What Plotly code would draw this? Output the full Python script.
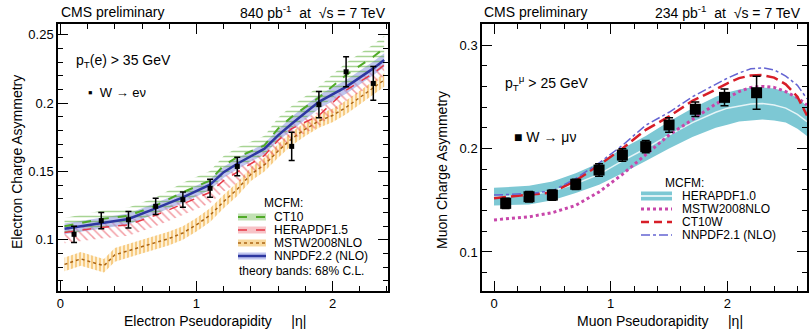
import plotly.graph_objects as go

# ---------------- data: left panel (electrons) ----------------
e_eta = [0.1, 0.3, 0.5, 0.7, 0.9, 1.1, 1.3, 1.7, 1.9, 2.1, 2.3]
e_asym = [0.104, 0.114, 0.1147, 0.1245, 0.1294, 0.1377, 0.1537, 0.1684, 0.199, 0.223, 0.2145]
e_err = [0.006, 0.006, 0.006, 0.006, 0.0055, 0.0066, 0.0068, 0.0104, 0.0096, 0.011, 0.0123]

th_eta = [0.03, 0.3, 0.5, 0.7, 0.9, 1.1, 1.2, 1.3, 1.5, 1.6, 1.7, 1.9, 2.1, 2.3, 2.38]
nnpdf22 = [0.108, 0.112, 0.1152, 0.123, 0.131, 0.1404, 0.1495, 0.1557, 0.1667, 0.1765, 0.185, 0.201, 0.212, 0.2255, 0.2316]
nnpdf22_err = [0.004, 0.004, 0.004, 0.004, 0.004, 0.004, 0.004, 0.004, 0.004, 0.004, 0.005, 0.005, 0.005, 0.005, 0.005]
ct10 = [0.110, 0.1152, 0.1176, 0.125, 0.1348, 0.1434, 0.1544, 0.1605, 0.1691, 0.1814, 0.19, 0.2042, 0.2206, 0.234, 0.2402]
ct10_err = [0.006, 0.006, 0.006, 0.006, 0.007, 0.007, 0.007, 0.007, 0.007, 0.008, 0.008, 0.008, 0.009, 0.009, 0.009]
hera15 = [0.1054, 0.109, 0.111, 0.118, 0.1262, 0.1348, 0.1434, 0.1495, 0.1618, 0.1728, 0.1814, 0.191, 0.2096, 0.2218, 0.228]
hera15_up = [0.003, 0.003, 0.003, 0.003, 0.003, 0.003, 0.003, 0.003, 0.003, 0.003, 0.003, 0.003, 0.003, 0.003, 0.003]
hera15_dn = [0.008, 0.008, 0.008, 0.008, 0.008, 0.008, 0.008, 0.008, 0.008, 0.008, 0.008, 0.008, 0.008, 0.008, 0.008]

mstw_eta = [0.03, 0.15, 0.25, 0.32, 0.4, 0.5, 0.6, 0.7, 0.8, 0.9, 1.0, 1.1, 1.2, 1.3, 1.4, 1.5,
            1.6, 1.7, 1.8, 1.9, 2.0, 2.1, 2.2, 2.3, 2.38]
mstw_e = [0.082, 0.086, 0.083, 0.081, 0.089, 0.092, 0.095, 0.098, 0.101, 0.105, 0.111, 0.118, 0.128,
          0.137, 0.148, 0.155, 0.165, 0.174, 0.181, 0.187, 0.191, 0.197, 0.204, 0.211, 0.217]
mstw_e_err = [0.005] * 25

# ---------------- data: right panel (muons) ----------------
m_eta = [0.1, 0.3, 0.5, 0.7, 0.9, 1.1, 1.3, 1.5, 1.725, 1.975, 2.25]
m_asym = [0.147, 0.1534, 0.155, 0.1654, 0.1792, 0.1937, 0.2018, 0.2227, 0.2379, 0.2494, 0.2539]
m_err = [0.005, 0.005, 0.005, 0.005, 0.006, 0.006, 0.006, 0.007, 0.007, 0.008, 0.016]

mu_eta = [0.0, 0.3, 0.5, 0.7, 0.9, 1.1, 1.3, 1.5, 1.7, 1.9, 2.0, 2.1, 2.2, 2.3, 2.4, 2.5, 2.6, 2.682]
hera10_c = [0.153, 0.155, 0.159, 0.166, 0.175, 0.188, 0.200, 0.213, 0.225, 0.235, 0.239, 0.241, 0.243, 0.2435, 0.242, 0.239, 0.233, 0.226]
hera10_hi = [0.162, 0.164, 0.168, 0.176, 0.186, 0.200, 0.212, 0.226, 0.239, 0.250, 0.254, 0.257, 0.259, 0.259, 0.258, 0.255, 0.249, 0.241]
hera10_lo = [0.145, 0.146, 0.150, 0.157, 0.165, 0.176, 0.188, 0.200, 0.211, 0.220, 0.223, 0.226, 0.227, 0.228, 0.227, 0.225, 0.219, 0.212]
mstw_m = [0.131, 0.134, 0.138, 0.145, 0.158, 0.175, 0.194, 0.213, 0.228, 0.243, 0.249, 0.255, 0.259, 0.260, 0.259, 0.255, 0.249, 0.242]
ct10w = [0.152, 0.155, 0.1575, 0.169, 0.184, 0.200, 0.218, 0.231, 0.246, 0.257, 0.263, 0.268, 0.2705, 0.271, 0.2685, 0.262, 0.250, 0.232]
nnpdf21 = [0.155, 0.1565, 0.159, 0.171, 0.186, 0.203, 0.2225, 0.235, 0.250, 0.262, 0.268, 0.273, 0.277, 0.278, 0.276, 0.270, 0.261, 0.248]

FONT = "Liberation Sans, Arial, sans-serif"
W, H = 809, 336


def px(x):
    return x / W


def py(y):
    return 1 - y / H


GREEN = "rgb(80,170,40)"
RED = "rgb(230,55,70)"
ORANGE = "rgb(240,160,30)"
DKORANGE = "rgb(170,100,20)"
BLUE = "rgb(45,55,160)"
LAV = "rgba(140,150,225,0.55)"
CYAN = "rgb(125,200,212)"
MAG = "rgb(200,70,170)"
RED2 = "rgb(215,30,40)"
BLUE2 = "rgb(100,100,210)"

fig = go.Figure()


def band(x, lo, hi, xa, ya, color=None, pattern=None):
    fig.add_trace(go.Scatter(x=x, y=lo, mode="lines", line=dict(width=0, color="rgba(0,0,0,0)"),
                             xaxis=xa, yaxis=ya, showlegend=False, hoverinfo="skip"))
    kw = dict(fill="tonexty", fillcolor=color if color else "rgba(0,0,0,0)")
    if pattern:
        kw["fillpattern"] = pattern
    fig.add_trace(go.Scatter(x=x, y=hi, mode="lines", line=dict(width=0, color="rgba(0,0,0,0)"),
                             xaxis=xa, yaxis=ya, showlegend=False, hoverinfo="skip", **kw))


# ---- left bands ----
band(mstw_eta, [v - e for v, e in zip(mstw_e, mstw_e_err)], [v + e for v, e in zip(mstw_e, mstw_e_err)],
     "x", "y", "rgba(250,200,100,0.35)",
     dict(shape="|", fgcolor=ORANGE, size=4, solidity=0.45, bgcolor="rgba(250,215,140,0.35)"))
band(th_eta, [v - e for v, e in zip(hera15, hera15_dn)], [v + e for v, e in zip(hera15, hera15_up)],
     "x", "y", None,
     dict(shape="\\", fgcolor=RED, size=6, solidity=0.25, bgcolor="rgba(0,0,0,0)"))
band(th_eta, [v - e for v, e in zip(nnpdf22, nnpdf22_err)], [v + e for v, e in zip(nnpdf22, nnpdf22_err)],
     "x", "y", LAV)
band(th_eta, [v - e for v, e in zip(ct10, ct10_err)], [v + e for v, e in zip(ct10, ct10_err)],
     "x", "y", None,
     dict(shape="-", fgcolor=GREEN, size=5, solidity=0.3, bgcolor="rgba(0,0,0,0)"))

# ---- left central lines ----
fig.add_trace(go.Scatter(x=mstw_eta, y=mstw_e, mode="lines", line=dict(color=DKORANGE, width=1.5, dash="dot"),
                         xaxis="x", yaxis="y", showlegend=False))
fig.add_trace(go.Scatter(x=th_eta, y=hera15, mode="lines", line=dict(color=RED, width=1.5, dash="dash"),
                         xaxis="x", yaxis="y", showlegend=False))
fig.add_trace(go.Scatter(x=th_eta, y=nnpdf22, mode="lines", line=dict(color=BLUE, width=2.5),
                         xaxis="x", yaxis="y", showlegend=False))
fig.add_trace(go.Scatter(x=th_eta, y=ct10, mode="lines", line=dict(color=GREEN, width=2, dash="dash"),
                         xaxis="x", yaxis="y", showlegend=False))
fig.add_trace(go.Scatter(x=e_eta, y=e_asym, mode="markers", marker=dict(symbol="square", size=5, color="black"),
                         error_y=dict(type="data", array=e_err, color="black", thickness=1.5, width=3),
                         xaxis="x", yaxis="y", showlegend=False))

# ---- right ----
band(mu_eta, hera10_lo, hera10_hi, "x2", "y2", CYAN)
fig.add_trace(go.Scatter(x=mu_eta, y=hera10_c, mode="lines", line=dict(color="rgba(255,255,255,0.8)", width=1.5),
                         xaxis="x2", yaxis="y2", showlegend=False))
fig.add_trace(go.Scatter(x=mu_eta, y=mstw_m, mode="lines", line=dict(color=MAG, width=3, dash="dot"),
                         xaxis="x2", yaxis="y2", showlegend=False))
fig.add_trace(go.Scatter(x=mu_eta, y=ct10w, mode="lines", line=dict(color=RED2, width=2.5, dash="12px,5px"),
                         xaxis="x2", yaxis="y2", showlegend=False))
fig.add_trace(go.Scatter(x=mu_eta, y=nnpdf21, mode="lines", line=dict(color=BLUE2, width=1.5, dash="dashdot"),
                         xaxis="x2", yaxis="y2", showlegend=False))
fig.add_trace(go.Scatter(x=m_eta, y=m_asym, mode="markers", marker=dict(symbol="square", size=11, color="black"),
                         error_y=dict(type="data", array=m_err, color="black", thickness=1.5, width=4),
                         xaxis="x2", yaxis="y2", showlegend=False))

ax_common = dict(showline=True, linecolor="black", linewidth=1.5, mirror="allticks", ticks="inside",
                 ticklen=10, tickwidth=1, tickcolor="black", showgrid=False, zeroline=False,
                 tickfont=dict(family=FONT, size=13, color="black"))

fig.update_layout(
    width=W, height=H, margin=dict(l=0, r=0, t=0, b=0),
    paper_bgcolor="white", plot_bgcolor="white", showlegend=False,
    xaxis=dict(domain=[px(58), px(388)], range=[-0.018, 2.408], anchor="y",
               tickvals=[0, 1, 2], ticktext=["0", "1", "2"],
               minor=dict(ticks="inside", ticklen=5, dtick=0.2, tick0=0, tickcolor="black", showgrid=False),
               **ax_common),
    yaxis=dict(domain=[py(291), py(24)], range=[0.0625, 0.258], anchor="x",
               tickvals=[0.1, 0.15, 0.2, 0.25], ticktext=["0.1", "0.15", "0.2", "0.25"],
               minor=dict(ticks="inside", ticklen=5, dtick=0.01, tick0=0, tickcolor="black", showgrid=False),
               **ax_common),
    xaxis2=dict(domain=[px(482), px(807)], range=[-0.103, 2.682], anchor="y2",
                tickvals=[0, 1, 2], ticktext=["0", "1", "2"],
                minor=dict(ticks="inside", ticklen=5, dtick=0.2, tick0=0, tickcolor="black", showgrid=False),
                **ax_common),
    yaxis2=dict(domain=[py(291), py(24)], range=[0.0623, 0.3203], anchor="x2",
                tickvals=[0.1, 0.2, 0.3], ticktext=["0.1", "0.2", "0.3"],
                minor=dict(ticks="inside", ticklen=5, dtick=0.02, tick0=0, tickcolor="black", showgrid=False),
                **ax_common),
)

ann = []


def text(x, y, s, size=13, anchor="left", angle=0):
    ann.append(dict(x=px(x), y=py(y), xref="paper", yref="paper", text=s, showarrow=False,
                    xanchor=anchor, yanchor="middle", textangle=angle,
                    font=dict(family=FONT, size=size, color="black")))


# headers
text(59, 12, "CMS preliminary", 14)
text(388, 12, "840 pb<sup>-1</sup>  at  √s = 7 TeV", 14, "right")
text(482, 12, "CMS preliminary", 14)
text(803, 12, "234 pb<sup>-1</sup>  at  √s = 7 TeV", 14, "right")
# axis titles
text(17, 162, "Electron Charge Asymmetry", 14, "center", -90)
text(442, 170, "Muon Charge Asymmetry", 14, "center", -90)
text(215, 321, "Electron Pseudorapidity     |η|", 14, "center")
text(660, 321, "Muon Pseudorapidity     |η|", 14, "center")
# labels in plots
text(74, 61, "p<sub>T</sub>(e) > 35 GeV", 14)
text(86, 92, "▪  W → eν", 13)
text(503, 83, "p<sub>T</sub><sup>μ</sup> > 25 GeV", 14)
text(512, 137, "■ W → μν", 14)

# left legend
text(262, 203, "MCFM:", 12)
for yy, lab in zip([217, 230, 243, 256], ["CT10", "HERAPDF1.5", "MSTW2008NLO", "NNPDF2.2 (NLO)"]):
    text(272, yy, lab, 12)
text(237, 270.5, "theory bands: 68% C.L.", 12)
# right legend
text(663, 183, "MCFM:", 12)
for yy, lab in zip([196, 209, 222, 235], ["HERAPDF1.0", "MSTW2008NLO", "CT10W", "NNPDF2.1 (NLO)"]):
    text(680, yy, lab, 12)

fig.update_layout(annotations=ann)

shapes = []


def gl_rect(x0, x1, y, h, color):
    shapes.append(dict(type="rect", xref="paper", yref="paper", x0=px(x0), x1=px(x1),
                       y0=py(y + h / 2), y1=py(y - h / 2), fillcolor=color, line=dict(width=0)))


def gl_line(x0, x1, y, color, width, dash="solid"):
    shapes.append(dict(type="line", xref="paper", yref="paper", x0=px(x0), x1=px(x1),
                       y0=py(y), y1=py(y), line=dict(color=color, width=width, dash=dash)))


# left legend glyphs
gl_rect(238, 266, 217, 7, "rgba(80,170,40,0.35)")
gl_line(238, 266, 217, GREEN, 2, "dash")
gl_rect(238, 266, 230, 7, "rgba(230,55,70,0.3)")
gl_line(238, 266, 230, RED, 1.5, "dash")
gl_rect(238, 266, 243, 7, "rgba(240,170,40,0.45)")
gl_line(238, 266, 243, DKORANGE, 1.5, "dot")
gl_rect(238, 266, 256, 7, LAV)
gl_line(238, 266, 256, BLUE, 2.5)
# right legend glyphs
gl_rect(641, 672, 196, 9, CYAN)
gl_line(641, 672, 196, "white", 1.5)
gl_line(641, 672, 209, MAG, 3, "dot")
gl_line(641, 672, 222, RED2, 2.5, "8px,5px")
gl_line(641, 672, 235, BLUE2, 1.5, "dashdot")

fig.update_layout(shapes=shapes)

fig.write_html("out.html", config={"displayModeBar": False},
               post_script="document.body.style.margin='0px';document.body.style.overflow='hidden';")
